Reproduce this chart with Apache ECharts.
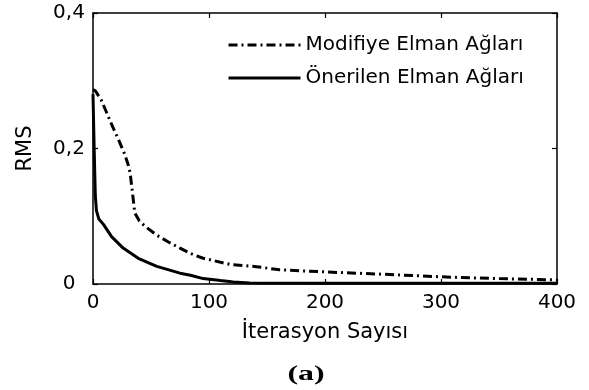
<!DOCTYPE html>
<html>
<head>
<meta charset="utf-8">
<script src="https://cdn.jsdelivr.net/npm/echarts@6/dist/echarts.min.js"></script>
<style>html,body{margin:0;padding:0;background:#fff;}#c{width:589px;height:390px;}</style>
</head>
<body>
<div id="c"></div>
<script>
var seriesNames = ['Modifiye Elman Ağları', 'Önerilen Elman Ağları'];
var modIter = [0, 2, 7, 12, 17, 22, 27, 30, 32, 34, 36, 40, 45, 55, 65, 75, 84, 95, 118, 141, 161, 198, 256, 308, 350, 400];
var modVal  = [0.287, 0.285, 0.272, 0.252, 0.232, 0.213, 0.193, 0.178, 0.164, 0.135, 0.105, 0.093, 0.085, 0.072, 0.062, 0.053, 0.045, 0.038, 0.029, 0.0255, 0.021, 0.018, 0.014, 0.010, 0.008, 0.006];
var oneIter = [0, 1, 2, 3, 5, 9, 16, 26, 39, 55, 75, 84, 95, 110, 121, 135, 200, 300, 400];
var oneVal  = [0.28, 0.2, 0.13, 0.108, 0.096, 0.088, 0.070, 0.053, 0.038, 0.026, 0.016, 0.013, 0.008, 0.005, 0.003, 0.0015, 0.0012, 0.001, 0.001];
var xTicks = [0, 100, 200, 300, 400];
var yTicks = [0, 0.2, 0.4];
var xName = 'İterasyon Sayısı';
var yName = 'RMS';
var panelLabel = '(a)';

function pairs(xs, ys) { return xs.map(function (x, i) { return [x, ys[i]]; }); }

var chart = echarts.init(document.getElementById('c'), null, {renderer: 'canvas'});
var font = '"DejaVu Sans", sans-serif';
var axisLineStyle = {color: '#000', width: 1.5};
var tickStyle = {show: true, inside: true, length: 5, lineStyle: {color: '#000', width: 1.2}};
chart.setOption({
  animation: false,
  backgroundColor: '#fff',
  grid: {left: 93, top: 13, right: 32, bottom: 106, show: false},
  legend: {
    data: seriesNames,
    orient: 'vertical',
    left: 227,
    top: 34,
    padding: 0,
    itemWidth: 72,
    itemHeight: 14,
    itemGap: 11,
    itemStyle: {opacity: 0},
    lineStyle: {opacity: 1, width: 3, color: '#000'},
    textStyle: {fontFamily: font, fontSize: 20, color: '#000', lineHeight: 22}
  },
  xAxis: [{
    type: 'value', min: 0, max: 400, interval: 100, position: 'bottom',
    name: xName, nameLocation: 'middle', nameGap: 38,
    nameTextStyle: {fontFamily: font, fontSize: 21, color: '#000'},
    axisLine: {show: true, onZero: false, lineStyle: axisLineStyle},
    axisTick: tickStyle,
    axisLabel: {fontFamily: font, fontSize: 20, color: '#000', margin: 9,
      formatter: function (v) { return xTicks.indexOf(v) >= 0 ? String(v) : ''; }},
    splitLine: {show: false}
  }, {
    type: 'value', min: 0, max: 400, interval: 100, position: 'top',
    axisLine: {show: true, onZero: false, lineStyle: axisLineStyle},
    axisTick: tickStyle,
    axisLabel: {show: false}, splitLine: {show: false}
  }],
  yAxis: [{
    type: 'value', min: 0, max: 0.4, interval: 0.2, position: 'left',
    name: yName, nameLocation: 'middle', nameGap: 57,
    nameTextStyle: {fontFamily: font, fontSize: 21, color: '#000'},
    axisLine: {show: true, onZero: false, lineStyle: axisLineStyle},
    axisTick: tickStyle,
    axisLabel: {fontFamily: font, fontSize: 20, color: '#000', margin: 24, align: 'center',
      formatter: function (v) {
        var r = Math.round(v * 10) / 10;
        return yTicks.indexOf(r) >= 0 ? String(r).replace('.', ',') : '';
      }},
    splitLine: {show: false}
  }, {
    type: 'value', min: 0, max: 0.4, interval: 0.2, position: 'right',
    axisLine: {show: true, onZero: false, lineStyle: axisLineStyle},
    axisTick: tickStyle,
    axisLabel: {show: false}, splitLine: {show: false}
  }],
  series: [{
    name: seriesNames[0], type: 'line', xAxisIndex: 0, yAxisIndex: 0,
    data: pairs(modIter, modVal), symbol: 'none', smooth: false,
    lineStyle: {color: '#000', width: 3, type: [9, 4, 2, 4]},
    itemStyle: {color: '#000'}
  }, {
    name: seriesNames[1], type: 'line', xAxisIndex: 0, yAxisIndex: 0,
    data: pairs(oneIter, oneVal), symbol: 'none', smooth: false,
    lineStyle: {color: '#000', width: 3, type: 'solid'},
    itemStyle: {color: '#000'}
  }],
  graphic: [{
    type: 'text', x: 306, y: 374, scaleX: 1.45,
    style: {text: panelLabel, font: 'bold 22px "Liberation Serif", "Times New Roman", serif',
      fill: '#000', textAlign: 'center', textVerticalAlign: 'middle'}
  }]
});
</script>
</body>
</html>
